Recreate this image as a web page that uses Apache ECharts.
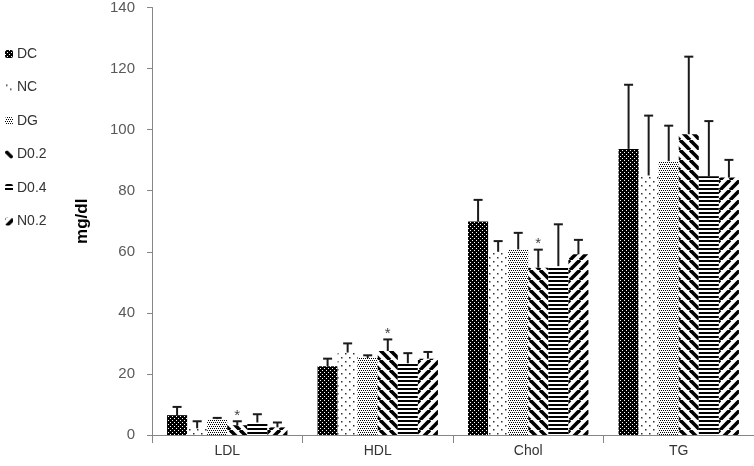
<!DOCTYPE html>
<html>
<head>
<meta charset="utf-8">
<script src="https://cdn.jsdelivr.net/npm/echarts@6/dist/echarts.min.js"></script>
<style>
  html, body { margin: 0; padding: 0; background: #fff; }
  #main { width: 754px; height: 466px; }
</style>
</head>
<body>
<div id="main"></div>
<script>
// values (mg/dl), mean and upper error
var categories = ['LDL', 'HDL', 'Chol', 'TG'];
var groups = ['DC', 'NC', 'DG', 'D0.2', 'D0.4', 'N0.2'];

var dc = [6.5, 22.5, 69.9, 93.7];
var nc = [2.2, 27.0, 60.0, 85.0];
var dg = [5.2, 25.2, 60.8, 89.7];
var d02 = [3.2, 27.5, 54.8, 98.5];
var d04 = [4.1, 23.5, 55.3, 84.7];
var n02 = [2.5, 25.0, 59.2, 84.3];

var dcErr = [2.7, 2.5, 7.1, 21.0];
var ncErr = [2.3, 3.0, 3.5, 19.6];
var dgErr = [0.4, 0.9, 5.4, 11.6];
var d02Err = [1.3, 3.8, 5.9, 25.4];
var d04Err = [2.7, 3.3, 13.7, 18.1];
var n02Err = [1.6, 2.2, 4.7, 5.8];

// asterisk marks (only on D0.2)
var d02Sig = [1, 1, 1, 0];

var yTicks = [0, 20, 40, 60, 80, 100, 120, 140];

// fill patterns
function tile(w, h, draw) {
    var c = document.createElement('canvas');
    c.width = w;
    c.height = h;
    var ctx = c.getContext('2d');
    ctx.fillStyle = '#fff';
    ctx.fillRect(0, 0, w, h);
    draw(ctx);
    return { image: c, repeat: 'repeat' };
}

function diag(ctx, size, dir) {
    ctx.strokeStyle = '#000';
    ctx.lineWidth = 3.6;
    for (var k = -1; k <= 1; k++) {
        ctx.beginPath();
        if (dir > 0) {
            ctx.moveTo(k * size, 0);
            ctx.lineTo(k * size + size, size);
        } else {
            ctx.moveTo(k * size + size, 0);
            ctx.lineTo(k * size, size);
        }
        ctx.stroke();
    }
}

var patDC = tile(4, 4, function (ctx) {
    ctx.fillStyle = '#000';
    ctx.fillRect(0, 0, 4, 4);
    ctx.fillStyle = '#fff';
    ctx.fillRect(0, 0, 1, 1);
    ctx.fillRect(2, 2, 1, 1);
});
var patNC = tile(8, 8, function (ctx) {
    ctx.fillStyle = '#333';
    ctx.fillRect(1, 1, 1.5, 1.5);
    ctx.fillRect(5, 5, 1.5, 1.5);
});
var patDG = tile(4, 4, function (ctx) {
    ctx.fillStyle = '#000';
    ctx.fillRect(0, 0, 1, 1);
    ctx.fillRect(2, 0, 1, 1);
    ctx.fillRect(1, 2, 1, 1);
    ctx.fillRect(3, 2, 1, 1);
});
var patD02 = tile(10, 10, function (ctx) { diag(ctx, 10, 1); });
var patD04 = tile(4, 4, function (ctx) {
    ctx.fillStyle = '#000';
    ctx.fillRect(0, 0, 4, 2);
});
var patN02 = tile(10, 10, function (ctx) { diag(ctx, 10, -1); });

var values = [dc, nc, dg, d02, d04, n02];
var errs = [dcErr, ncErr, dgErr, d02Err, d04Err, n02Err];
var sigs = [null, null, null, d02Sig, null, null];
var pats = [patDC, patNC, patDG, patD02, patD04, patN02];

var series = [];
for (var i = 0; i < groups.length; i++) {
    series.push({
        name: groups[i],
        type: 'bar',
        barGap: 0,
        barCategoryGap: '20%',
        itemStyle: { color: pats[i] },
        data: values[i]
    });
}

function errSeries(idx) {
    var data = [];
    for (var j = 0; j < categories.length; j++) {
        data.push([j, values[idx][j], errs[idx][j], sigs[idx] ? sigs[idx][j] : 0]);
    }
    return {
        name: groups[idx] + ' err',
        type: 'custom',
        z: 5,
        silent: true,
        data: data,
        renderItem: function (params, api) {
            var cat = api.value(0);
            var val = api.value(1);
            var err = api.value(2);
            var catW = api.size([1, 0])[0];
            var barW = catW * 0.8 / groups.length;
            var p0 = api.coord([cat, val]);
            var p1 = api.coord([cat, val + err]);
            var x = p0[0] - catW * 0.4 + barW * (idx + 0.5);
            var style = { stroke: '#1a1a1a', lineWidth: 2 };
            var kids = [
                { type: 'line', shape: { x1: x, y1: p0[1], x2: x, y2: p1[1] }, style: style },
                { type: 'line', shape: { x1: x - 4.5, y1: p1[1], x2: x + 4.5, y2: p1[1] }, style: style }
            ];
            if (api.value(3)) {
                kids.push({
                    type: 'text',
                    style: {
                        text: '*', x: x, y: p1[1] + 2,
                        align: 'center', verticalAlign: 'bottom',
                        fontSize: 15, fontFamily: 'Liberation Sans', fill: '#444'
                    }
                });
            }
            return { type: 'group', children: kids };
        }
    };
}
for (var e = 0; e < groups.length; e++) {
    series.push(errSeries(e));
}

var myChart = echarts.init(document.getElementById('main'));
var option = {
    backgroundColor: '#fff',
    animation: false,
    textStyle: { fontFamily: 'Liberation Sans' },
    legend: {
        data: groups,
        orient: 'vertical',
        left: 0,
        top: 42,
        itemWidth: 8,
        itemHeight: 8,
        itemGap: 19.5,
        itemStyle: { borderWidth: 0 },
        textStyle: { fontSize: 14, color: '#333', padding: [0, 0, 0, -1] }
    },
    grid: {
        left: 152,
        right: 0,
        top: 3,
        bottom: 31,
        containLabel: false
    },
    xAxis: {
        type: 'category',
        data: categories,
        axisLine: { lineStyle: { color: '#868686', width: 1 } },
        axisTick: { show: true, length: 8, lineStyle: { color: '#868686' } },
        axisLabel: { fontSize: 14, color: '#333', margin: 9 }
    },
    yAxis: {
        type: 'value',
        min: yTicks[0],
        max: yTicks[yTicks.length - 1],
        interval: yTicks[1] - yTicks[0],
        name: 'mg/dl',
        nameLocation: 'middle',
        nameGap: 61,
        nameTextStyle: { fontSize: 17, fontWeight: 'bold', color: '#000' },
        axisLine: { show: true, lineStyle: { color: '#868686', width: 1 } },
        axisTick: { show: true, length: 5, lineStyle: { color: '#868686' } },
        axisLabel: { fontSize: 15, color: '#595959', margin: 17 },
        splitLine: { show: false }
    },
    series: series
};
myChart.setOption(option);
</script>
</body>
</html>
